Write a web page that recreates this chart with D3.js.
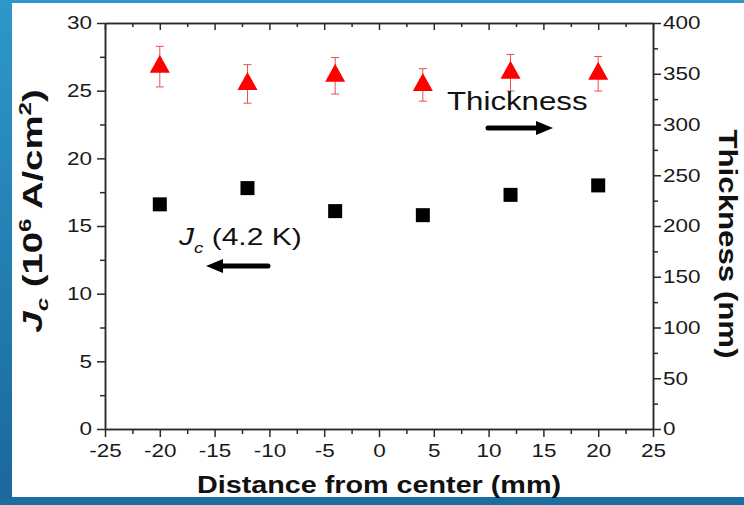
<!DOCTYPE html>
<html>
<head>
<meta charset="utf-8">
<script src="https://cdn.jsdelivr.net/npm/d3@7"></script>
<style>
  html, body { margin: 0; padding: 0; background: #1c6ea2; }
  svg { display: block; }
  text { font-family: "Liberation Sans", Arial, sans-serif; }
</style>
</head>
<body>
<svg id="chart" width="744" height="505"></svg>
<script>
// ---- data ----
const positions = [-20, -12, -4, 4, 12, 20];            // Distance from center (mm)
const jcValues = [16.6, 17.8, 16.1, 15.8, 17.3, 18.0];    // Jc (10^6 A/cm^2)
const thicknessValues = [357, 340, 348, 339, 351, 350];   // Thickness (nm)
const thicknessErrors = [20, 19, 18, 16, 18, 17];         // error half-width (nm)
const xTicks = [-25, -20, -15, -10, -5, 0, 5, 10, 15, 20, 25];
const yLeftTicks = [0, 5, 10, 15, 20, 25, 30];
const yRightTicks = [0, 50, 100, 150, 200, 250, 300, 350, 400];

const SX = 1.25; // text is drawn wide (stretched along its baseline)
const svg = d3.select("#chart");

// background
const defs = svg.append("defs");
const grad = defs.append("linearGradient").attr("id", "bg").attr("x1", 0).attr("y1", 0).attr("x2", 0).attr("y2", 1);
grad.append("stop").attr("offset", "0%").attr("stop-color", "#2e98c9");
grad.append("stop").attr("offset", "100%").attr("stop-color", "#1a679d");
svg.append("rect").attr("width", 744).attr("height", 505).attr("fill", "url(#bg)");
svg.append("rect").attr("x", 0).attr("y", 497).attr("width", 744).attr("height", 8).attr("fill", "#1c6ea2");
svg.append("rect").attr("x", 12).attr("y", 3).attr("width", 732).attr("height", 494).attr("fill", "#ffffff");

const pLeft = 105, pRight = 653, pTop = 23, pBottom = 429;
const x = d3.scaleLinear().domain([-25, 25]).range([pLeft, pRight]);
const yL = d3.scaleLinear().domain([0, 30]).range([pBottom, pTop]);
const yR = d3.scaleLinear().domain([0, 400]).range([pBottom, pTop]);

const axisColor = "#2a2a2a";
function styleAxis(g) {
  g.selectAll("path.domain").attr("stroke", axisColor).attr("stroke-width", 1.5);
  g.selectAll(".tick line").attr("stroke", axisColor).attr("stroke-width", 1.5);
  g.selectAll(".tick text").attr("fill", "#1a1a1a").attr("font-size", 18)
    .attr("font-family", "Liberation Sans, Arial, sans-serif");
}
const stepRange = (a, b, s) => d3.range(a, b + s / 2, s);
const xMinor = stepRange(-25, 25, 2.5).filter(v => !xTicks.includes(v));
const yLMinor = stepRange(0, 30, 2.5).filter(v => !yLeftTicks.includes(v));
const yRMinor = stepRange(0, 400, 25).filter(v => !yRightTicks.includes(v));

// bottom axis
const gB = svg.append("g").attr("transform", `translate(0,${pBottom})`)
  .call(d3.axisBottom(x).tickValues(xTicks).tickSize(8).tickSizeOuter(0).tickPadding(7).tickFormat(d => String(d)));
styleAxis(gB);
gB.selectAll(".tick text").attr("transform", `scale(${SX},1)`);
svg.append("g").attr("transform", `translate(0,${pBottom})`)
  .call(d3.axisBottom(x).tickValues(xMinor).tickSize(5).tickSizeOuter(0).tickFormat("")).call(styleAxis);

// top axis (inward ticks)
svg.append("g").attr("transform", `translate(0,${pTop})`)
  .call(d3.axisBottom(x).tickValues(xTicks).tickSize(7).tickSizeOuter(0).tickFormat("")).call(styleAxis);
svg.append("g").attr("transform", `translate(0,${pTop})`)
  .call(d3.axisBottom(x).tickValues(xMinor).tickSize(4).tickSizeOuter(0).tickFormat("")).call(styleAxis);

// left axis
const gL = svg.append("g").attr("transform", `translate(${pLeft},0)`)
  .call(d3.axisLeft(yL).tickValues(yLeftTicks).tickSize(8).tickSizeOuter(0).tickPadding(6));
styleAxis(gL);
gL.selectAll(".tick text").attr("x", -13 / SX).attr("transform", `scale(${SX},1)`);
svg.append("g").attr("transform", `translate(${pLeft},0)`)
  .call(d3.axisLeft(yL).tickValues(yLMinor).tickSize(5).tickSizeOuter(0).tickFormat("")).call(styleAxis);

// right axis
const gR = svg.append("g").attr("transform", `translate(${pRight},0)`)
  .call(d3.axisRight(yR).tickValues(yRightTicks).tickSize(8).tickSizeOuter(0).tickPadding(6));
styleAxis(gR);
gR.selectAll(".tick text").attr("x", 10 / SX).attr("transform", `scale(${SX},1)`);
svg.append("g").attr("transform", `translate(${pRight},0)`)
  .call(d3.axisRight(yR).tickValues(yRMinor).tickSize(5).tickSizeOuter(0).tickFormat("")).call(styleAxis);

// error bars (thickness)
const red = "#ff0000";
const eb = svg.append("g").attr("stroke", "#e85050").attr("stroke-width", 1).attr("fill", "none");
positions.forEach((p, i) => {
  const cx = x(p), y1 = yR(thicknessValues[i] + thicknessErrors[i]), y2 = yR(thicknessValues[i] - thicknessErrors[i]);
  eb.append("line").attr("x1", cx).attr("x2", cx).attr("y1", y1).attr("y2", y2);
  eb.append("line").attr("x1", cx - 4).attr("x2", cx + 4).attr("y1", y1).attr("y2", y1);
  eb.append("line").attr("x1", cx - 4).attr("x2", cx + 4).attr("y1", y2).attr("y2", y2);
});

// triangles
svg.append("g").selectAll("path").data(positions).join("path")
  .attr("transform", (d, i) => `translate(${x(d)},${yR(thicknessValues[i])})`)
  .attr("d", "M0,-12L10,6L-10,6Z")
  .attr("fill", red);

// squares
svg.append("g").selectAll("rect").data(positions).join("rect")
  .attr("x", d => x(d) - 7)
  .attr("y", (d, i) => yL(jcValues[i]) - 7)
  .attr("width", 14).attr("height", 14)
  .attr("fill", "#000");

// axis titles
svg.append("g").attr("transform", `translate(379,493) scale(${SX},1)`)
  .append("text").attr("text-anchor", "middle").attr("font-weight", "bold").attr("font-size", 23)
  .attr("fill", "#111").text("Distance from center (mm)");

const lt = svg.append("g").attr("transform", `translate(42,211) rotate(-90) scale(1.42,1)`)
  .append("text").attr("text-anchor", "middle").attr("font-weight", "bold").attr("font-size", 27).attr("fill", "#111");
lt.append("tspan").attr("font-style", "italic").text("J");
lt.append("tspan").attr("font-size", 17).attr("dy", 6).attr("font-style", "italic").text("c");
lt.append("tspan").attr("dy", -6).text(" (10");
lt.append("tspan").attr("font-size", 17).attr("dy", -11).text("6");
lt.append("tspan").attr("dy", 11).text(" A/cm");
lt.append("tspan").attr("font-size", 17).attr("dy", -11).text("2");
lt.append("tspan").attr("dy", 11).text(")");

svg.append("g").attr("transform", `translate(719,244) rotate(90) scale(${SX},1)`)
  .append("text").attr("text-anchor", "middle").attr("font-weight", "bold").attr("font-size", 25)
  .attr("fill", "#111").text("Thickness (nm)");

// annotations
svg.append("g").attr("transform", `translate(447,110) scale(${SX},1)`)
  .append("text").attr("font-size", 25).attr("fill", "#111").text("Thickness");

const jt = svg.append("g").attr("transform", `translate(179,245) scale(${SX},1)`)
  .append("text").attr("font-size", 24).attr("fill", "#111");
jt.append("tspan").attr("font-style", "italic").text("J");
jt.append("tspan").attr("font-size", 15).attr("dy", 8).attr("font-style", "italic").text("c");
jt.append("tspan").attr("dy", -8).text(" (4.2 K)");

// arrows
function arrow(x1, x2, y) {
  const dir = Math.sign(x2 - x1);
  const head = 17;
  svg.append("line").attr("x1", x1).attr("x2", x2 - dir * head + dir * 2).attr("y1", y).attr("y2", y)
    .attr("stroke", "#000").attr("stroke-width", 5).attr("stroke-linecap", "round");
  svg.append("path").attr("d", `M${x2},${y}L${x2 - dir * head},${y - 7}L${x2 - dir * head},${y + 7}Z`).attr("fill", "#000");
}
arrow(488, 553, 128);
arrow(268, 206, 266);
</script>
</body>
</html>
